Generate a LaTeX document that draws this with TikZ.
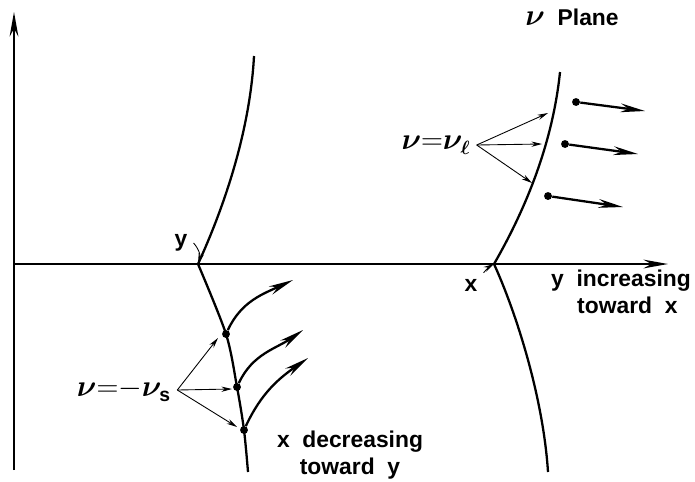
\documentclass[tikz,border=0pt]{standalone}
\usepackage{fontspec}
\setmainfont{Liberation Sans}
\usepackage{bm}
\usetikzlibrary{arrows.meta}
\begin{document}
\begin{tikzpicture}[x=0.02cm, y=-0.02cm,
  every node/.style={font=\bfseries\fontsize{13}{15}\selectfont},
  mathlab/.style={font=\fontsize{16}{18}\selectfont},
  axis/.style={line width=1.1pt, -{Stealth[length=14pt, width=5pt]}},
  curve/.style={line width=1.3pt},
  pointer/.style={line width=0.5pt, -{Stealth[length=6pt, width=3pt]}},
  flow/.style={line width=1.3pt, -{Stealth[length=14pt, width=5pt]}},
  dot/.style={circle, fill, inner sep=0pt, minimum size=4.5pt}]
\useasboundingbox (0,0) rectangle (695,481);
% axes
\coordinate (o) at (14,264);
\draw[axis] (14,470) -- (14,12);
\draw[axis] (o) -- (668,264);
% left curve, through y
\coordinate (ly) at (198,264);
\node[dot] (s1) at (226,334) {};
\node[dot] (s2) at (237,387) {};
\node[dot] (s3) at (244,430) {};
\draw[curve] (ly) .. controls (225,205) and (250,130) .. (254,56);
\draw[curve] plot[smooth] coordinates {(ly) (s1) (s2) (s3) (248,472)};
% right curve, through x
\coordinate (rx) at (494,264);
\draw[curve] (rx) .. controls (528,205) and (553,140) .. (560,72);
\draw[curve] (rx) .. controls (515,310) and (543,395) .. (548,472);
% labels
\node (plane) at (572,17) {{\fontsize{16}{18}\selectfont$\bm{\nu}$}\ \ Plane};
\node[mathlab] (nul) at (436,145) {$\bm{\nu}{=}\bm{\nu}_{\bm{\ell}}$};
\node[mathlab] (nus) at (124,390) {$\bm{\nu}{=}{-}\bm{\nu}_{\mbox{\bfseries\fontsize{11}{12}\selectfont s}}$};
\node (ylab) at (181,243) {y};
\node (xlab) at (471,285) {x};
\node[align=center, inner sep=0pt] (yinc) at (621,292) {y\ \ increasing\\\ \ toward\ \ x};
\node[align=center, inner sep=0pt] (xdec) at (350,455) {x\ \ decreasing\\toward\ \ y};
% pointers
\draw[pointer] (ylab.east) to[bend left=30] (ly);
\draw[pointer] (xlab.north east) to[bend left=10] (rx);
\coordinate (l1) at (548,113);
\coordinate (l2) at (542,144);
\coordinate (l3) at (532,183);
\foreach \t in {l1,l2,l3}
  \draw[pointer] (nul.east) -- (\t);
\coordinate (m1) at (218,338);
\coordinate (m2) at (232,389);
\coordinate (m3) at (237,427);
\foreach \t in {m1,m2,m3}
  \draw[pointer] (nus.east) -- (\t);
% velocity arrows
\node[dot] (r1) at (576,102) {};
\node[dot] (r2) at (565,144) {};
\node[dot] (r3) at (548,196) {};
\coordinate (e1) at (645,111);
\coordinate (e2) at (638,154);
\coordinate (e3) at (623,207);
\draw[flow] (r1) -- (e1);
\draw[flow] (r2) -- (e2);
\draw[flow] (r3) -- (e3);
\coordinate (f1) at (293,280);
\coordinate (f2) at (303,330);
\coordinate (f3) at (308,358);
\draw[flow] (s1) to[out=65, in=205] (f1);
\draw[flow] (s2) to[out=65, in=215] (f2);
\draw[flow] (s3) to[out=65, in=215] (f3);
\end{tikzpicture}
\end{document}
